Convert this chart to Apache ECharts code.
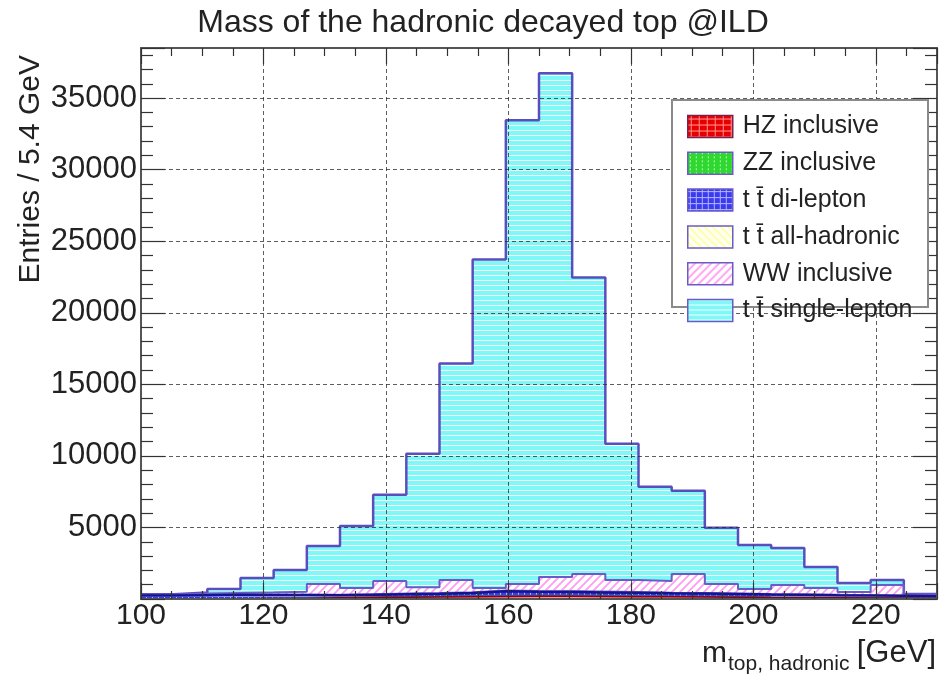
<!DOCTYPE html>
<html>
<head>
<meta charset="utf-8">
<script src="https://cdn.jsdelivr.net/npm/echarts@6/dist/echarts.min.js"></script>
<style>html,body{margin:0;padding:0;background:#fff}#c{width:940px;height:676px}</style>
</head>
<body>
<div id="c"></div>
<script>
// ---- data (entries per 5.4 GeV bin, 24 bins from 100 to 230 GeV) ----
const xMin = 100;
const xMax = 230;
const nBins = 24;
const hz     = [10,15,20,30,40,80,100,120,140,160,180,200,200,180,160,150,140,120,100,90,80,70,60,40];
const zz     = [10,10,15,20,40,30,40,50,50,60,60,60,60,60,70,60,60,50,40,40,30,30,20,20];
const dilep  = [220,240,260,230,200,150,160,170,180,200,300,240,230,220,200,190,180,180,170,170,160,150,140,130];
const allhad = [20,20,30,40,40,50,50,60,60,70,80,80,90,80,70,60,60,50,50,40,40,30,30,20];
const ww     = [40,100,100,130,180,740,420,860,390,840,150,470,960,1210,830,800,1310,650,340,640,460,210,730,100];
const slep   = [30,65,275,1020,1530,2650,4330,6020,9330,15120,22950,32400,35200,20710,9520,6580,5810,3920,3080,2590,1470,630,350,40];
const names  = ['HZ inclusive','ZZ inclusive','t t\u0304 di-lepton','t t\u0304 all-hadronic','WW inclusive','t t\u0304 single-lepton'];
const titleText = 'Mass of the hadronic decayed top @ILD';
const yTitle = 'Entries / 5.4 GeV';

// ---- patterns ----
function pat(w,h,draw){const c=document.createElement('canvas');c.width=w;c.height=h;const g=c.getContext('2d');draw(g,w,h);return {image:c,repeat:'repeat'};}
const pCyan = pat(8,5,(g,w,h)=>{g.fillStyle='#80f8f8';g.fillRect(0,0,w,h);g.fillStyle='#f2ffff';g.fillRect(0,0,w,1);});
const pPink = pat(8,8,(g,w,h)=>{g.fillStyle='#fff';g.fillRect(0,0,w,h);g.strokeStyle='#ff9cf2';g.lineWidth=1.8;
  g.beginPath();g.moveTo(0,8);g.lineTo(8,0);g.moveTo(-4,4);g.lineTo(4,-4);g.moveTo(4,12);g.lineTo(12,4);g.stroke();});
const pYel = pat(8,8,(g,w,h)=>{g.fillStyle='#fffff4';g.fillRect(0,0,w,h);g.strokeStyle='#ffff9c';g.lineWidth=1.6;
  g.beginPath();g.moveTo(0,0);g.lineTo(8,8);g.moveTo(-4,4);g.lineTo(4,12);g.moveTo(4,-4);g.lineTo(12,4);g.stroke();});
const pBlue = pat(6,6,(g,w,h)=>{g.fillStyle='#3a3af0';g.fillRect(0,0,w,h);g.fillStyle='#b8b8ff';g.fillRect(0,2,6,1);g.fillRect(2,0,1,6);});
const pGreen = pat(6,4,(g,w,h)=>{g.fillStyle='#2ed82e';g.fillRect(0,0,w,h);g.fillStyle='#c8ffc8';g.fillRect(2,0,1,2);});
const pRed = pat(8,6,(g,w,h)=>{g.fillStyle='#e80000';g.fillRect(0,0,w,h);g.fillStyle='#ff9090';g.fillRect(3,0,1,6);g.fillRect(0,3,8,1);});

// ---- cumulative stack ----
const comps = [hz,zz,dilep,allhad,ww,slep];
const fills = [pRed,pGreen,pBlue,pYel,pPink,pCyan];
const lineCols = ['#8a0018','#3a5fa0','#14148c','#7a6cd0','#6a5cc8','#5a4ebe'];
const lineW = [1.5,1.5,2.5,1.5,2,2.5];
const cum = [];
let run = new Array(nBins).fill(0);
comps.forEach(a=>{run = run.map((v,i)=>v+a[i]); cum.push(run.slice());});
const bw = (xMax-xMin)/nBins;
function stepData(arr){const d=[];for(let i=0;i<nBins;i++)d.push([xMin+i*bw,arr[i]]);d.push([xMax,arr[nBins-1]]);return d;}

const series = [];
for(let k=comps.length-1;k>=0;k--){
  series.push({
    name:names[k], type:'line', step:'end', data:stepData(cum[k]), showSymbol:false, symbol:'none',
    xAxisIndex:0, yAxisIndex:0, z:2,
    lineStyle:{color:lineCols[k],width:lineW[k]},
    itemStyle:{color:fills[k],borderColor:lineCols[k]},
    areaStyle:{color:fills[k],opacity:1},
    emphasis:{disabled:true}, silent:true, animation:false
  });
}

const axCol = '#555';
const chart = echarts.init(document.getElementById('c'),null,{renderer:'canvas'});
chart.setOption({
  animation:false,
  backgroundColor:'#fff',
  title:{text:titleText,left:483,textAlign:'center',top:7,padding:0,
    textStyle:{fontFamily:'Liberation Sans',fontSize:32,fontWeight:'normal',color:'#222'}},
  grid:{left:141,right:3,top:48,bottom:77},
  legend:{
    orient:'vertical',left:682,top:109,itemWidth:45,itemHeight:22,itemGap:11.8,icon:'rect',
    selectedMode:false,
    textStyle:{fontFamily:'Liberation Sans',fontSize:25,color:'#222',padding:[0,0,0,5]},
    data:names.map((n,i)=>({name:n,icon:'rect',itemStyle:{color:fills[i],borderColor:i===0?'#7a2050':'#6a5cc8',borderWidth:1.5}})),
    z:5
  },
  xAxis:[{
    type:'value',min:xMin,max:xMax,interval:20,z:2.5,
    axisLine:{show:true,onZero:false,lineStyle:{color:axCol,width:2}},
    axisTick:{show:true,inside:true,length:16,lineStyle:{color:'#333',width:1.2}},
    minorTick:{show:true,splitNumber:4,length:8,lineStyle:{color:'#333',width:1.2}},
    splitLine:{show:true,lineStyle:{color:'rgba(40,40,40,0.75)',width:1,type:[4,3]}},
    axisLabel:{fontFamily:'Liberation Sans',fontSize:30,color:'#222',margin:2,showMaxLabel:false,formatter:v=>String(v)}
  },{
    type:'value',min:xMin,max:xMax,interval:20,position:'top',z:2.5,
    axisLine:{show:true,onZero:false,lineStyle:{color:axCol,width:2}},
    axisTick:{show:true,inside:true,length:16,lineStyle:{color:'#333',width:1.2}},
    minorTick:{show:true,splitNumber:4,length:8,lineStyle:{color:'#333',width:1.2}},
    splitLine:{show:false},axisLabel:{show:false}
  }],
  yAxis:[{
    type:'value',min:0,max:38500,interval:5000,z:2.5,
    axisLine:{show:true,onZero:false,lineStyle:{color:axCol,width:2}},
    axisTick:{show:true,inside:true,length:24,lineStyle:{color:'#333',width:1.2}},
    minorTick:{show:true,splitNumber:5,length:12,lineStyle:{color:'#333',width:1.2}},
    splitLine:{show:true,lineStyle:{color:'rgba(40,40,40,0.75)',width:1,type:[4,3]}},
    axisLabel:{fontFamily:'Liberation Sans',fontSize:31,color:'#222',margin:4,showMinLabel:false,showMaxLabel:false,padding:[5,0,0,0],formatter:v=>String(v)}
  },{
    type:'value',min:0,max:38500,interval:5000,position:'right',z:2.5,
    axisLine:{show:true,onZero:false,lineStyle:{color:axCol,width:2}},
    axisTick:{show:true,inside:true,length:24,lineStyle:{color:'#333',width:1.2}},
    minorTick:{show:true,splitNumber:5,length:12,lineStyle:{color:'#333',width:1.2}},
    splitLine:{show:false},axisLabel:{show:false}
  }],
  graphic:[
    {type:'rect',z:4,shape:{x:672,y:100,width:256,height:207},style:{fill:'#fff',stroke:'#8a8a8a',lineWidth:2},silent:true},
    {type:'text',z:5,x:31,y:55,rotation:Math.PI/2,style:{text:yTitle,align:'right',verticalAlign:'middle',fontFamily:'Liberation Sans',fontSize:30,fill:'#222'}},
    {type:'text',z:5,x:702,y:654,style:{text:'m',align:'left',verticalAlign:'middle',fontFamily:'Liberation Sans',fontSize:30,fill:'#222'}},
    {type:'text',z:5,x:728,y:664,style:{text:'top, hadronic',align:'left',verticalAlign:'middle',fontFamily:'Liberation Sans',fontSize:21,fill:'#222'}},
    {type:'text',z:5,x:936,y:653,style:{text:'[GeV]',align:'right',verticalAlign:'middle',fontFamily:'Liberation Sans',fontSize:31,fill:'#222'}}
  ],
  series:series
});
</script>
</body>
</html>
